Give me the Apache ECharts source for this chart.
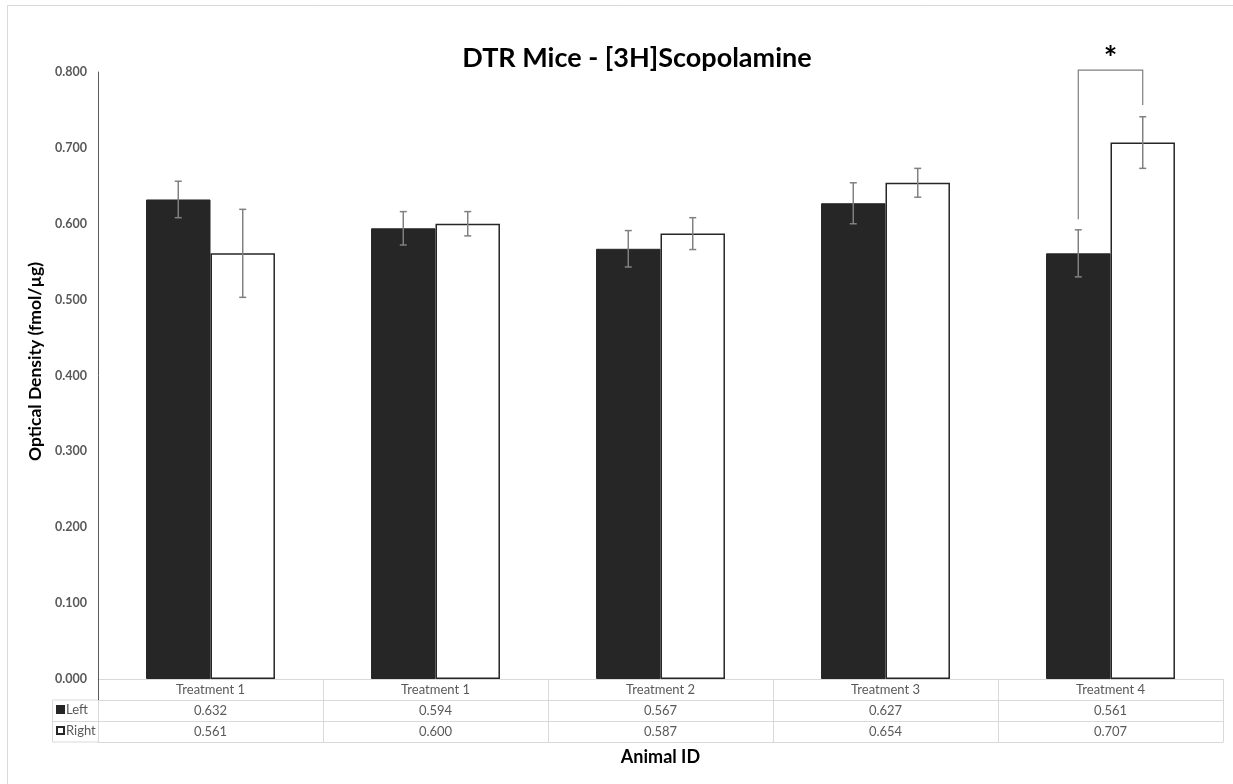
<!DOCTYPE html>
<html><head><meta charset="utf-8">
<script src="https://cdn.jsdelivr.net/npm/echarts@6/dist/echarts.min.js"></script>
<style>html,body{margin:0;padding:0;background:#fff}#c{width:1233px;height:784px}</style>
</head><body><div id="c"></div>
<script>
// ---- data ----
const categories = ['Treatment 1', 'Treatment 1', 'Treatment 2', 'Treatment 3', 'Treatment 4'];
const leftValues = [0.632, 0.594, 0.567, 0.627, 0.561];
const rightValues = [0.561, 0.600, 0.587, 0.654, 0.707];
const leftErrors = [0.024, 0.022, 0.024, 0.027, 0.031];
const rightErrors = [0.058, 0.016, 0.021, 0.019, 0.034];
const seriesNames = ['Left', 'Right'];
const yTicks = { min: 0, max: 0.8, interval: 0.1 };
// significance bracket: [category index, top value, left end value, right end value]
const sigBracket = [4, 0.8026, 0.606, 0.7565];
const sigLabel = '*';

// ---- layout ----
const G = { left: 98, right: 10, top: 72, bottom: 105 };
const ROW = 21;
const CAT_GAP = 0.427;
const FONT = 'Lato, "Open Sans", "Noto Sans", sans-serif';
const TABLE_LINE = '#d9d9d9';
const DARK = '#262626';

const chart = echarts.init(document.getElementById('c'));

function tableAxis(data, offset, extra) {
  return Object.assign({
    type: 'category', data: data, position: 'bottom', offset: offset, gridIndex: 0,
    boundaryGap: true,
    axisLine: { show: true, lineStyle: { color: TABLE_LINE, width: 1 } },
    axisTick: { show: true, length: ROW, interval: 0, lineStyle: { color: TABLE_LINE, width: 1 } },
    axisLabel: { show: true, interval: 0, margin: 4, color: '#595959', fontSize: 13, fontFamily: FONT },
    splitLine: { show: false }
  }, extra || {});
}

const errorData = [];
leftValues.forEach((v, i) => errorData.push([i, v, leftErrors[i], -1]));
rightValues.forEach((v, i) => errorData.push([i, v, rightErrors[i], 1]));

function barCenterX(api, idx, val, side) {
  const c = api.coord([idx, val]);
  const band = api.size([1, 0])[0];
  const bw = band * (1 - CAT_GAP) / 2;
  return c[0] + side * bw / 2;
}

const option = {
  animation: false,
  backgroundColor: '#fff',
  title: {
    text: 'DTR Mice - [3H]Scopolamine', left: 632, top: 40, textAlign: 'center',
    textStyle: { fontFamily: FONT, fontWeight: 'bold', fontSize: 27, color: '#000' }
  },
  legend: {
    data: seriesNames, orient: 'vertical', left: 56, top: 703, itemWidth: 7, itemHeight: 7,
    itemGap: 8, padding: 0, icon: 'rect',
    textStyle: { fontFamily: FONT, fontSize: 13, color: '#595959', lineHeight: 13, padding: [0, 0, 0, -3] }
  },
  grid: { left: G.left, right: G.right, top: G.top, bottom: G.bottom, containLabel: false },
  xAxis: [
    tableAxis(categories, 0),
    tableAxis(leftValues.map(v => v.toFixed(3)), ROW),
    tableAxis(rightValues.map(v => v.toFixed(3)), ROW * 2),
    tableAxis(categories, ROW * 3, {
      axisTick: { show: false }, axisLabel: { show: false },
      name: 'Animal ID', nameLocation: 'middle', nameGap: 6,
      nameTextStyle: { fontFamily: FONT, fontWeight: 'bold', fontSize: 18, color: '#000', verticalAlign: 'top' }
    })
  ],
  yAxis: {
    type: 'value', min: yTicks.min, max: yTicks.max, interval: yTicks.interval,
    axisLine: { show: true, lineStyle: { color: '#595959', width: 1 } },
    axisTick: { show: false },
    splitLine: { show: false },
    axisLabel: { formatter: v => v.toFixed(3), color: '#595959', fontWeight: 'bold', fontSize: 12.5, fontFamily: FONT, margin: 11 },
    name: 'Optical Density (fmol/\u00b5g)', nameLocation: 'middle', nameGap: 46,
    nameTextStyle: { fontFamily: FONT, fontWeight: 'bold', fontSize: 17.5, color: '#000', padding: [0, 0, 0, 28] }
  },
  series: [
    {
      name: seriesNames[0], type: 'bar', data: leftValues, xAxisIndex: 0,
      barGap: '0%', barCategoryGap: (CAT_GAP * 100) + '%',
      itemStyle: { color: DARK, borderColor: DARK, borderWidth: 1 }
    },
    {
      name: seriesNames[1], type: 'bar', data: rightValues, xAxisIndex: 0,
      barGap: '0%', barCategoryGap: (CAT_GAP * 100) + '%',
      itemStyle: { color: '#ffffff', borderColor: DARK, borderWidth: 1.5 }
    },
    {
      type: 'custom', xAxisIndex: 0, data: errorData, z: 10, clip: false,
      encode: { x: 0, y: 1 },
      renderItem: function (params, api) {
        const idx = api.value(0), val = api.value(1), err = api.value(2), side = api.value(3);
        const x = barCenterX(api, idx, val, side);
        const yt = api.coord([idx, val + err])[1];
        const yb = api.coord([idx, val - err])[1];
        const st = { stroke: '#808080', lineWidth: 1.5 };
        const cap = 3.5;
        return {
          type: 'group', children: [
            { type: 'line', shape: { x1: x, y1: yt, x2: x, y2: yb }, style: st },
            { type: 'line', shape: { x1: x - cap, y1: yt, x2: x + cap, y2: yt }, style: st },
            { type: 'line', shape: { x1: x - cap, y1: yb, x2: x + cap, y2: yb }, style: st }
          ]
        };
      }
    },
    {
      type: 'custom', xAxisIndex: 0, data: [sigBracket], z: 10, clip: false,
      encode: { x: 0, y: 1 },
      renderItem: function (params, api) {
        const idx = api.value(0), top = api.value(1), lEnd = api.value(2), rEnd = api.value(3);
        const xl = barCenterX(api, idx, top, -1);
        const xr = barCenterX(api, idx, top, 1);
        const yt = api.coord([idx, top])[1];
        const yl = api.coord([idx, lEnd])[1];
        const yr = api.coord([idx, rEnd])[1];
        return {
          type: 'group', children: [
            { type: 'polyline', shape: { points: [[xl, yl], [xl, yt], [xr, yt], [xr, yr]] },
              style: { stroke: '#7f7f7f', lineWidth: 1.2, fill: null } },
            { type: 'text', x: (xl + xr) / 2, y: yt + 6,
              style: { text: sigLabel, fontSize: 32, fontWeight: 'bold', fontFamily: FONT, fill: '#000',
                       align: 'center', verticalAlign: 'bottom' } }
          ]
        };
      }
    }
  ]
};
chart.setOption(option);

// table decorations: legend column borders and y-axis extension through the category row
const H = 784, W = 1233;
const yAxisX = G.left, yZero = H - G.bottom;
const legendLeft = 52;
chart.setOption({
  graphic: [
    { type: 'rect', shape: { x: 7.5, y: 5.5, width: W, height: H }, style: { fill: null, stroke: '#d9d9d9', lineWidth: 1 }, silent: true, z: -1 },
    { type: 'polyline', shape: { points: [[yAxisX, yZero + ROW], [legendLeft + 0.5, yZero + ROW], [legendLeft + 0.5, yZero + ROW * 3], [yAxisX, yZero + ROW * 3]] },
      style: { stroke: TABLE_LINE, lineWidth: 1, fill: null }, silent: true },
    { type: 'line', shape: { x1: legendLeft, y1: yZero + ROW * 2 + 0.5, x2: yAxisX, y2: yZero + ROW * 2 + 0.5 }, style: { stroke: TABLE_LINE, lineWidth: 1 }, silent: true },
    { type: 'line', shape: { x1: yAxisX + 0.5, y1: yZero, x2: yAxisX + 0.5, y2: yZero + ROW }, style: { stroke: '#595959', lineWidth: 1 }, silent: true, z: 100 }
  ]
});
</script></body></html>
